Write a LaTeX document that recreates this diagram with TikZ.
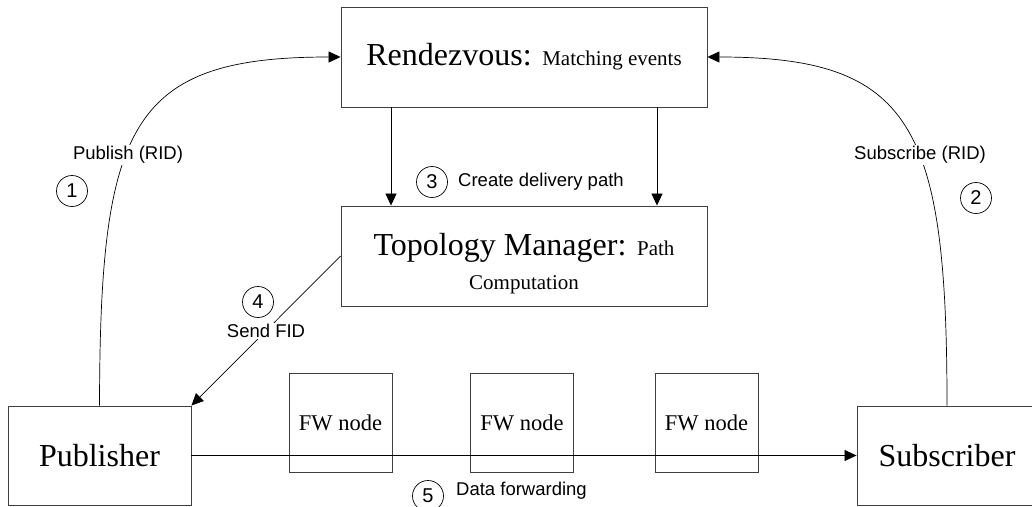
\documentclass[tikz,border=0pt]{standalone}
\usepackage{fontspec}
\setmainfont{Liberation Serif}
\setsansfont{Liberation Sans}
\usetikzlibrary{arrows.meta}
\begin{document}
\begin{tikzpicture}[x=1pt,y=-1pt,
 box/.style={draw=black!75, line width=0.9pt, inner sep=0pt, font=\fontsize{32}{30}\selectfont},
 fwbox/.style={draw=black!75, line width=0.9pt, inner sep=0pt, minimum width=103pt, minimum height=99pt, font=\fontsize{22.5}{26}\selectfont},
 conn/.style={line width=0.7pt, -{Triangle[length=12pt,width=11pt]}},
 lab/.style={font=\sffamily\fontsize{18.5}{22}\selectfont, fill=white, inner sep=1pt},
 num/.style={circle, draw, line width=0.7pt, minimum size=31pt, inner sep=0pt, font=\sffamily\fontsize{20}{22}\selectfont}]
\useasboundingbox (0,0) rectangle (1032,506);
\node[box, minimum width=366pt, minimum height=100pt] (rv) at (524,57) {Rendezvous: {\fontsize{21}{24}\selectfont Matching events}};
\node[box, minimum width=366pt, minimum height=100pt, align=center, font=\fontsize{32}{34}\selectfont] (tm) at (524,256) {\rule{0pt}{37pt}Topology Manager: {\fontsize{21}{24}\selectfont Path}\\{\fontsize{21}{24}\selectfont Computation}};
\node[box, minimum width=183pt, minimum height=99pt] (pub) at (99.5,455.5) {Publisher};
\node[box, minimum width=180pt, minimum height=99pt] (sub) at (947,455.5) {Subscriber};
\node[fwbox] (fw1) at (340.5,422.5) {FW node};
\node[fwbox] (fw2) at (522,422.5) {FW node};
\node[fwbox] (fw3) at (706.5,422.5) {FW node};
\draw[conn] (pub.north) .. controls (100,125) and (130,57) .. (rv.west);
\draw[conn] (sub.north) .. controls (947,125) and (912,57) .. (rv.east);
\draw[conn] ([xshift=-133pt]rv.south) -- ([xshift=-133pt]tm.north);
\draw[conn] ([xshift=133pt]rv.south) -- ([xshift=133pt]tm.north);
\draw[conn] (tm.west) -- (pub.north east);
\draw[conn] (pub.east) -- (sub.west);
\node[lab] (l1) at (128,155) {Publish (RID)};
\node[num] (n1) at (72,191) {1};
\node[lab] (l2) at (920,155) {Subscribe (RID)};
\node[num] (n2) at (976,198) {2};
\node[num] (n3) at (432,182) {3};
\node[lab, anchor=west] (l3) at (457,182) {Create delivery path};
\node[num] (n4) at (258,302) {4};
\node[lab] (l4) at (266,331) {Send FID};
\node[num] (n5) at (428,496) {5};
\node[lab, anchor=west] (l5) at (455,491) {Data forwarding};
\end{tikzpicture}
\end{document}
